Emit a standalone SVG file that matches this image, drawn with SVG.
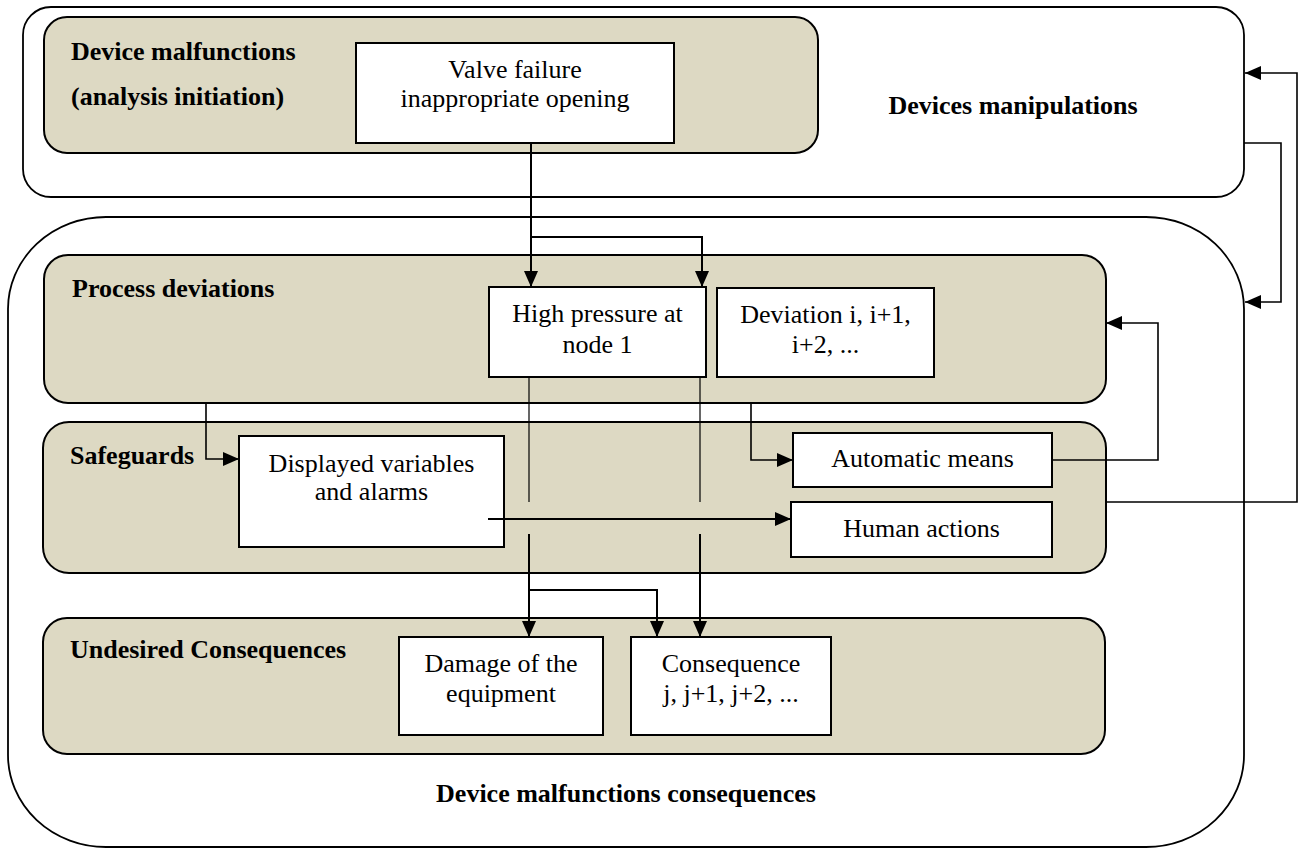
<svg xmlns="http://www.w3.org/2000/svg" width="1300" height="848" viewBox="0 0 1300 848">
  <defs>
    <marker id="arrow" markerUnits="userSpaceOnUse" markerWidth="16" markerHeight="14" refX="16" refY="7" orient="auto">
      <path d="M0,0 L16,7 L0,14 z" fill="#000"/>
    </marker>
    <style>
      .frame { fill: #fff; stroke: #000; stroke-width: 1.8; }
      .layer { fill: #ddd9c3; stroke: #000; stroke-width: 2; }
      .box { fill: #fff; stroke: #000; stroke-width: 2; }
      .head { font-size: 26px; font-weight: bold; fill: #000; }
      .label { font-size: 26px; fill: #000; text-anchor: middle; }
      .wire { fill: none; stroke: #000; stroke-width: 1.6; }
      .wire-thin { fill: none; stroke: #000; stroke-width: 1.2; }
      .wire-bold { fill: none; stroke: #000; stroke-width: 2; }
    </style>
  </defs>

  <g font-family="'Liberation Serif', 'DejaVu Serif', serif">
  <!-- outer frames -->
  <g id="devices-manipulations">
    <rect class="frame" x="23" y="7" width="1221" height="190" rx="28" ry="28"/>
    <text class="head" x="1013" y="114" text-anchor="middle">Devices manipulations</text>
  </g>
  <g id="malfunction-consequences">
    <rect class="frame" x="8" y="217" width="1236" height="630" rx="98" ry="92"/>
    <text class="head" x="626" y="802" text-anchor="middle">Device malfunctions consequences</text>
  </g>

  <!-- layers -->
  <g id="device-malfunctions">
    <rect class="layer" x="44" y="17" width="774" height="136" rx="23" ry="23"/>
    <text class="head" x="71" y="60">Device malfunctions</text>
    <text class="head" x="71" y="105">(analysis initiation)</text>
  </g>
  <g id="process-deviations">
    <rect class="layer" x="44" y="255" width="1062" height="148" rx="24" ry="24"/>
    <text class="head" x="72" y="297">Process deviations</text>
  </g>
  <g id="safeguards">
    <rect class="layer" x="43" y="422" width="1063" height="151" rx="26" ry="26"/>
    <text class="head" x="70" y="464">Safeguards</text>
  </g>
  <g id="undesired-consequences">
    <rect class="layer" x="43" y="618" width="1062" height="136" rx="24" ry="24"/>
    <text class="head" x="70" y="658">Undesired Consequences</text>
  </g>

  <!-- nodes -->
  <g id="valve-failure">
    <rect class="box" x="356" y="43" width="318" height="100"/>
    <text class="label" x="515" y="78">Valve failure</text>
    <text class="label" x="515" y="107">inappropriate opening</text>
  </g>
  <g id="high-pressure">
    <rect class="box" x="489" y="287" width="217" height="90"/>
    <text class="label" x="597.5" y="322">High pressure at</text>
    <text class="label" x="597.5" y="353">node 1</text>
  </g>
  <g id="deviation-i">
    <rect class="box" x="717" y="288" width="217" height="89"/>
    <text class="label" x="825.5" y="323">Deviation i, i+1,</text>
    <text class="label" x="825.5" y="353">i+2, ...</text>
  </g>
  <g id="displayed-variables">
    <rect class="box" x="239" y="436" width="265" height="111"/>
    <text class="label" x="371.5" y="472">Displayed variables</text>
    <text class="label" x="371.5" y="500">and alarms</text>
  </g>
  <g id="automatic-means">
    <rect class="box" x="793" y="433" width="259" height="54"/>
    <text class="label" x="922.5" y="467">Automatic means</text>
  </g>
  <g id="human-actions">
    <rect class="box" x="791" y="502" width="261" height="55"/>
    <text class="label" x="921.5" y="537">Human actions</text>
  </g>
  <g id="equipment-damage">
    <rect class="box" x="399" y="637" width="204" height="98"/>
    <text class="label" x="501" y="672">Damage of the</text>
    <text class="label" x="501" y="702">equipment</text>
  </g>
  <g id="consequence-j">
    <rect class="box" x="631" y="637" width="200" height="98"/>
    <text class="label" x="731" y="672">Consequence</text>
    <text class="label" x="731" y="702">j, j+1, j+2, ...</text>
  </g>
  </g>

  <!-- connectors -->
  <g id="connectors">
    <path class="wire-bold" d="M531,143 V287" marker-end="url(#arrow)"/>
    <path class="wire-bold" d="M531,237 H702 V287" marker-end="url(#arrow)"/>
    <path class="wire-thin" d="M529,377 V502"/>
    <path class="wire-thin" d="M700,377 V502"/>
    <path class="wire-bold" d="M529,534 V637" marker-end="url(#arrow)"/>
    <path class="wire-bold" d="M529,590 H657 V637" marker-end="url(#arrow)"/>
    <path class="wire-bold" d="M700,534 V637" marker-end="url(#arrow)"/>
    <path class="wire" d="M206,403 V459 H239" marker-end="url(#arrow)"/>
    <path class="wire" d="M751,403 V460 H793" marker-end="url(#arrow)"/>
    <path class="wire-bold" d="M488,519 H791" marker-end="url(#arrow)"/>
    <path class="wire" d="M1052,460 H1158 V323 H1106" marker-end="url(#arrow)"/>
    <path class="wire" d="M1106,502 H1297 V73 H1245" marker-end="url(#arrow)"/>
    <path class="wire" d="M1244,143 H1281 V302 H1245" marker-end="url(#arrow)"/>
  </g>
</svg>
